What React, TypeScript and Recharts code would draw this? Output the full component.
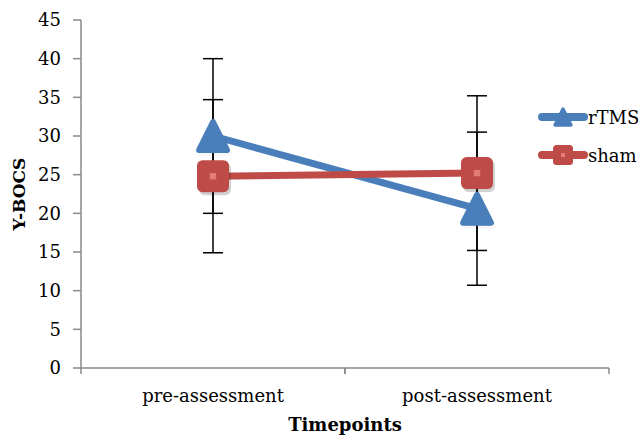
import {
  LineChart,
  Line,
  XAxis,
  YAxis,
  ErrorBar,
  Legend,
} from 'recharts'

const categories = ['pre-assessment', 'post-assessment']
const rtmsValues = [30, 20.6]
const shamValues = [24.8, 25.2]
const rtmsErrors = [10, 9.9]
const shamErrors = [9.9, 10]
const yTicks = [0, 5, 10, 15, 20, 25, 30, 35, 40, 45]

const BLUE = '#4A7EBB'
const RED = '#BE4B48'
const AXIS = '#898989'
const FONT = '"DejaVu Serif", serif'

const W = 641
const H = 437
const MARGIN = { top: 20, right: 32, left: 0, bottom: 0 }
const Y_AXIS_W = 81
const PLOT_W = W - MARGIN.left - MARGIN.right - Y_AXIS_W

const data = categories.map((name, i) => ({
  name,
  rtms: rtmsValues[i],
  sham: shamValues[i],
  rtmsErr: rtmsErrors[i],
  shamErr: shamErrors[i],
}))

function Triangle({ cx, cy, size = 14, shadow = true }: any) {
  const pts = (dx: number, dy: number) =>
    `${cx + dx},${cy - size + dy} ${cx + size + dx},${cy + size + dy} ${cx - size + dx},${cy + size + dy}`
  return (
    <g>
      {shadow && (
        <polygon points={pts(2, 3)} fill="#000" opacity={0.18} stroke="#000" strokeOpacity={0.18} strokeWidth={6} strokeLinejoin="round" />
      )}
      <polygon points={pts(0, 0)} fill={BLUE} stroke={BLUE} strokeWidth={size * 0.42} strokeLinejoin="round" />
    </g>
  )
}

function Square({ cx, cy, size = 16, shadow = true }: any) {
  return (
    <g>
      {shadow && (
        <rect x={cx - size + 2} y={cy - size + 3} width={size * 2} height={size * 2} rx={size * 0.35} fill="#000" opacity={0.18} />
      )}
      <rect x={cx - size} y={cy - size} width={size * 2} height={size * 2} rx={size * 0.35} fill={RED} />
      <rect x={cx - size * 0.2} y={cy - size * 0.2} width={size * 0.4} height={size * 0.4} fill="#E27C79" />
    </g>
  )
}

function XTick({ x, y, payload }: any) {
  const half = PLOT_W / categories.length / 2
  return (
    <g>
      <line x1={x - half} y1={y} x2={x - half} y2={y + 6} stroke={AXIS} strokeWidth={1.5} />
      <line x1={x + half} y1={y} x2={x + half} y2={y + 6} stroke={AXIS} strokeWidth={1.5} />
      <text x={x} y={y + 34} textAnchor="middle" fontFamily={FONT} fontSize={18} fill="#000">
        {payload.value}
      </text>
    </g>
  )
}

const legendItems = [
  { label: 'rTMS', color: BLUE, marker: 'triangle' },
  { label: 'sham', color: RED, marker: 'square' },
]

function LegendContent() {
  return (
    <div>
      {legendItems.map((it) => (
        <div key={it.label} style={{ display: 'flex', alignItems: 'center', height: 38 }}>
          <svg width={52} height={26}>
            <line x1={6} y1={13} x2={48} y2={13} stroke={it.color} strokeWidth={8} strokeLinecap="round" />
            {it.marker === 'triangle' ? (
              <Triangle cx={27} cy={13} size={8} shadow={false} />
            ) : (
              <Square cx={27} cy={13} size={10} shadow={false} />
            )}
          </svg>
          <span style={{ fontFamily: FONT, fontSize: 18, color: '#000', whiteSpace: 'nowrap' }}>{it.label}</span>
        </div>
      ))}
    </div>
  )
}

export default function App() {
  return (
    <div style={{ position: 'absolute', left: 0, top: 0, width: W, height: H, background: '#fff' }}>
      <LineChart width={W} height={H} data={data} margin={MARGIN}>
        <XAxis
          dataKey="name"
          scale="band"
          height={69}
          stroke={AXIS}
          strokeWidth={1.5}
          tickLine={false}
          tickSize={0}
          tickMargin={0}
          tick={<XTick />}
          interval={0}
          label={{ value: 'Timepoints', position: 'insideBottom', offset: 6, style: { fontFamily: FONT, fontSize: 18, fontWeight: 'bold', fill: '#000' } }}
        />
        <YAxis
          width={Y_AXIS_W}
          domain={[0, 45]}
          ticks={yTicks}
          interval={0}
          stroke={AXIS}
          strokeWidth={1.5}
          tickSize={8}
          tickMargin={12}
          tick={{ fill: '#000', fontFamily: FONT, fontSize: 18 }}
          label={{ value: 'Y-BOCS', angle: -90, position: 'insideLeft', offset: 19, style: { textAnchor: 'middle', fontFamily: FONT, fontSize: 17, fontWeight: 'bold', fill: '#000' } }}
        />
        <Legend
          layout="vertical"
          align="center"
          verticalAlign="middle"
          content={<LegendContent />}
          wrapperStyle={{ position: 'absolute', left: 536, top: 98, width: 110 }}
        />
        <Line
          dataKey="rtms"
          stroke={BLUE}
          strokeWidth={7}
          dot={<Triangle />}
          activeDot={false}
          isAnimationActive={false}
        />
        <Line
          dataKey="sham"
          stroke={RED}
          strokeWidth={7}
          dot={<Square />}
          activeDot={false}
          isAnimationActive={false}
        />
        <Line dataKey="rtms" stroke="none" dot={false} activeDot={false} legendType="none" isAnimationActive={false}>
          <ErrorBar dataKey="rtmsErr" direction="y" width={10} stroke="#000" strokeWidth={1.5} isAnimationActive={false} />
        </Line>
        <Line dataKey="sham" stroke="none" dot={false} activeDot={false} legendType="none" isAnimationActive={false}>
          <ErrorBar dataKey="shamErr" direction="y" width={10} stroke="#000" strokeWidth={1.5} isAnimationActive={false} />
        </Line>
      </LineChart>
    </div>
  )
}
